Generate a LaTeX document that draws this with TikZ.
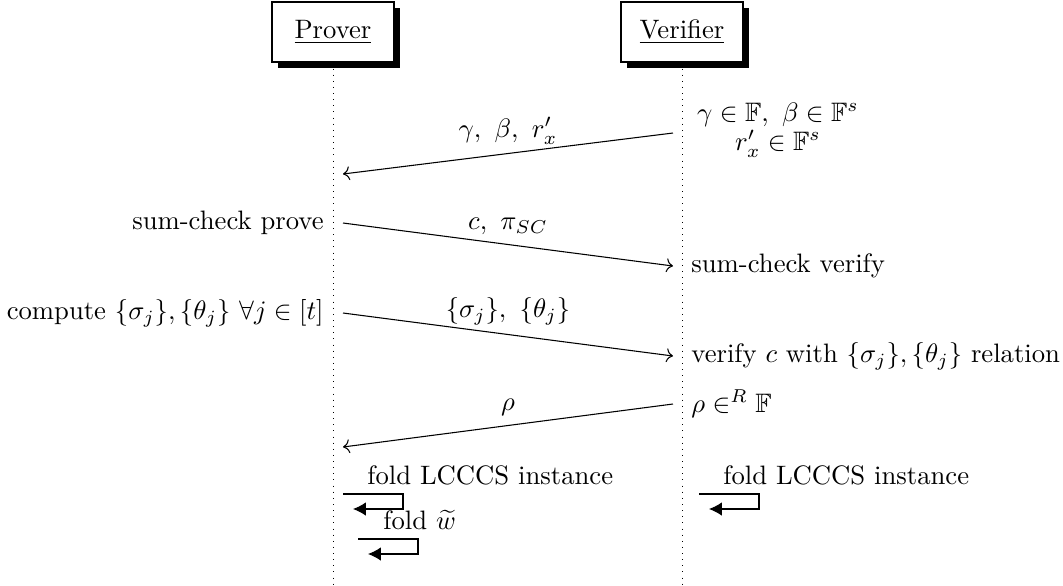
\documentclass[tikz,border=0pt]{standalone}
\usepackage{amsmath,amssymb}
\usetikzlibrary{shadows,arrows.meta}
\begin{document}
\begin{tikzpicture}[x=0.375pt,y=-0.375pt,
  actor/.style={draw, fill=white, minimum width=45.75pt, minimum height=22.5pt, inner sep=0pt,
    drop shadow={shadow xshift=2.25pt, shadow yshift=-2.25pt, fill=black, opacity=1}},
  life/.style={dotted, line width=0.3pt},
  msg/.style={->},
  selfarrow/.style={-{Latex[length=4.8pt,width=5pt]}},
  note/.style={inner sep=3.33pt}]
\useasboundingbox (0,0) rectangle (1063,585);
% actors
\node[actor] (P) at (333,32) {\underline{Prover}};
\node[actor] (V) at (682,32) {\underline{Verifier}};
\coordinate (Pend) at (333,585);
\coordinate (Vend) at (682,585);
\draw[life] ([yshift=-2.25pt]P.south) -- (Pend);
\draw[life] ([yshift=-2.25pt]V.south) -- (Vend);
% message 1
\node[note] (n1) at (778,130) [align=center] {$\gamma\in\mathbb{F},~\beta\in\mathbb{F}^s$\\[-1pt]$r'_x\in\mathbb{F}^s$};
\coordinate (m1s) at (673,133); \coordinate (m1e) at (343,174);
\draw[msg] (m1s) -- node[above] {$\gamma,~\beta,~r'_x$} (m1e);
% message 2
\node[note, anchor=east] (sp) at (333,223) {sum-check prove};
\coordinate (m2s) at (343,223); \coordinate (m2e) at (673,266);
\draw[msg] (m2s) -- node[above] {$c,~\pi_{SC}$} (m2e);
\node[note, anchor=west] (sv) at (682,266) {sum-check verify};
% message 3
\node[note, anchor=east] (cp) at (333,313) {compute $\{\sigma_j\},\{\theta_j\}~\forall j\in[t]$};
\coordinate (m3s) at (343,313); \coordinate (m3e) at (673,356);
\draw[msg] (m3s) -- node[above] {$\{\sigma_j\},~\{\theta_j\}$} (m3e);
\node[note, anchor=west] (vr) at (682,356) {verify $c$ with $\{\sigma_j\},\{\theta_j\}$ relation};
% message 4
\node[note, anchor=west] (rh) at (682,404) {$\rho\in^R\mathbb{F}$};
\coordinate (m4s) at (673,404); \coordinate (m4e) at (343,447);
\draw[msg] (m4s) -- node[above] {$\rho$} (m4e);
% self calls
\coordinate (l1) at (343,494);
\draw[selfarrow] (l1) -- ++(60,0) -- ++(0,15) -- ++(-50,0);
\node[note, anchor=south west] (t1) at (358,494) {fold LCCCS instance};
\coordinate (l2) at (358,539);
\draw[selfarrow] (l2) -- ++(60,0) -- ++(0,15) -- ++(-50,0);
\node[note, anchor=south west] (t2) at (374,539) {fold $\widetilde{w}$};
\coordinate (l3) at (699,494);
\draw[selfarrow] (l3) -- ++(60,0) -- ++(0,15) -- ++(-50,0);
\node[note, anchor=south west] (t3) at (714,494) {fold LCCCS instance};
\end{tikzpicture}
\end{document}
